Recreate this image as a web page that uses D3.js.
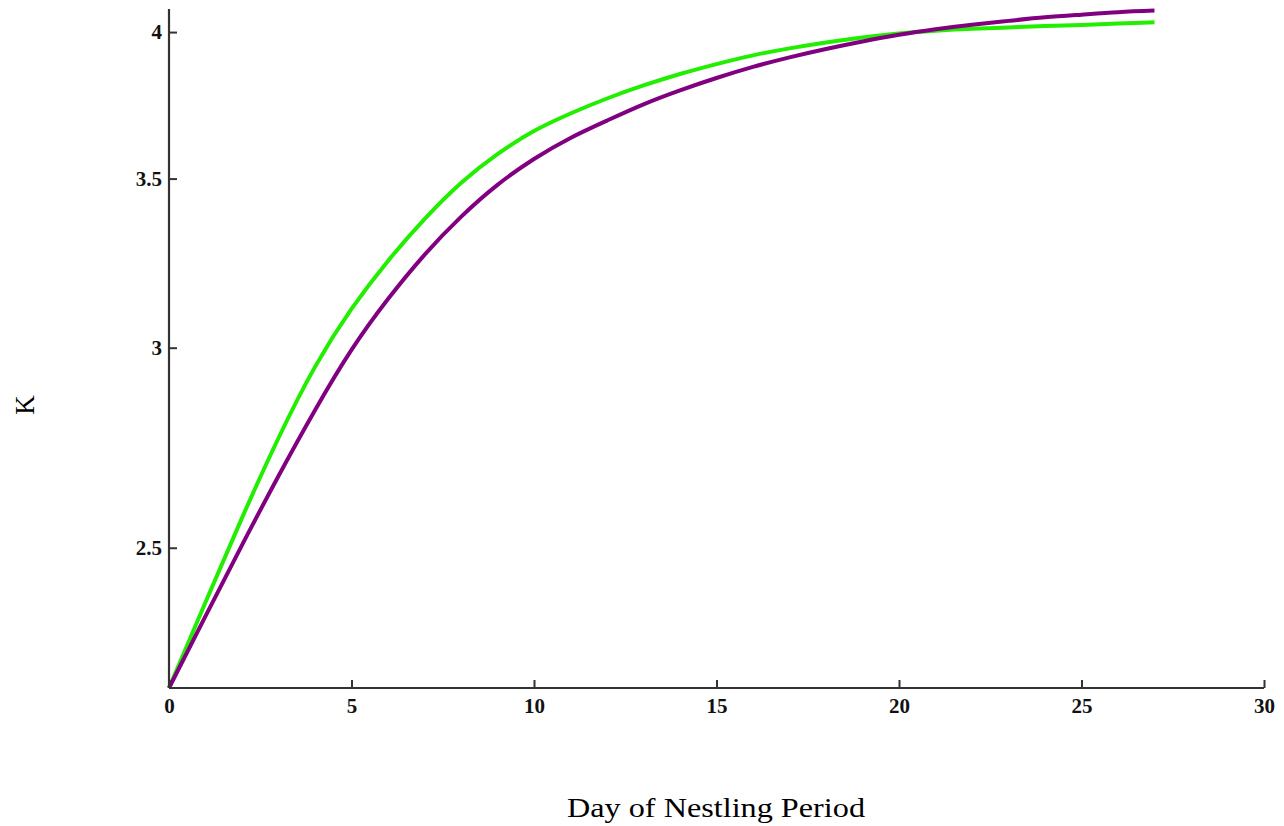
<!DOCTYPE html>
<html>
<head>
<meta charset="utf-8">
<script src="https://cdn.jsdelivr.net/npm/d3@7"></script>
<style>
  html, body { margin: 0; padding: 0; background: #fff; }
  svg { display: block; }
</style>
</head>
<body>
<svg id="chart" width="1284" height="826"></svg>
<script>
// ---- data ----
const days = [0,1,2,3,4,5,6,7,8,9,10,11,12,13,14,15,16,17,18,19,20,21,22,23,24,25,26,27];
const greenK = [2.200,2.379,2.569,2.763,2.948,3.108,3.247,3.373,3.486,3.579,3.655,3.714,3.765,3.810,3.850,3.885,3.916,3.941,3.962,3.980,3.995,4.005,4.012,4.017,4.022,4.026,4.031,4.036];
const purpleK = [2.200,2.349,2.506,2.669,2.834,2.994,3.136,3.265,3.380,3.480,3.563,3.632,3.690,3.745,3.793,3.836,3.875,3.909,3.939,3.966,3.990,4.010,4.027,4.041,4.054,4.064,4.073,4.079];
const xTicks = [0,5,10,15,20,25,30];
const yTicks = [2.5,3,3.5,4];
const xTitle = "Day of Nestling Period";
const yTitle = "K";

(function () {
  const svg = d3.select("#chart");
  const mLeft = 169, mRight = 1264, mTop = 9, mBottom = 688;

  const x = d3.scaleLinear().domain([0, 30]).range([mLeft, mRight]);
  const y = d3.scaleLog().domain([2.2, 4.085]).range([mBottom, mTop]);

  const line = d3.line()
    .x(d => x(d[0]))
    .y(d => y(d[1]))
    .curve(d3.curveNatural);

  svg.append("path")
    .datum(days.map((d, i) => [d, greenK[i]]))
    .attr("fill", "none")
    .attr("stroke", "#22ee00")
    .attr("stroke-width", 4)
    .attr("d", line);

  svg.append("path")
    .datum(days.map((d, i) => [d, purpleK[i]]))
    .attr("fill", "none")
    .attr("stroke", "#800080")
    .attr("stroke-width", 4)
    .attr("d", line);

  const tickFont = "'Liberation Serif', 'Times New Roman', serif";

  const xAxis = d3.axisBottom(x).tickValues(xTicks).tickFormat(d3.format("d"))
    .tickSizeInner(-8).tickSizeOuter(0).tickPadding(14);
  const gx = svg.append("g").attr("transform", `translate(0,${mBottom})`).call(xAxis);

  const yAxis = d3.axisLeft(y).tickValues(yTicks).tickFormat(d => String(d))
    .tickSizeInner(-8).tickSizeOuter(0).tickPadding(14);
  const gy = svg.append("g").attr("transform", `translate(${mLeft},0)`).call(yAxis);

  [gx, gy].forEach(g => {
    g.attr("font-size", null).attr("font-family", null);
    g.select(".domain").attr("stroke", "#333").attr("stroke-width", 2.2);
    g.selectAll(".tick line").attr("stroke", "#333").attr("stroke-width", 2);
    g.selectAll(".tick text")
      .attr("fill", "#111")
      .style("font-family", tickFont)
      .style("font-weight", "bold")
      .style("font-size", "21px");
  });
  gx.select(".domain").attr("d", `M${mLeft},0H${mRight}`);
  gy.select(".domain").attr("d", `M0,${mTop}V${mBottom}`);
  gx.selectAll(".tick text").attr("dy", "0.71em").attr("y", 10);
  gy.selectAll(".tick text").attr("x", -7);

  svg.append("text")
    .attr("x", 716).attr("y", 817)
    .attr("text-anchor", "middle")
    .attr("textLength", 298)
    .attr("lengthAdjust", "spacingAndGlyphs")
    .style("font-family", "'Liberation Serif', serif")
    .style("font-size", "28px")
    .attr("fill", "#000")
    .text(xTitle);

  svg.append("text")
    .attr("transform", "translate(34,405) rotate(-90)")
    .attr("text-anchor", "middle")
    .style("font-family", "'Liberation Serif', serif")
    .style("font-size", "27px")
    .attr("fill", "#000")
    .text(yTitle);
})();
</script>
</body>
</html>
